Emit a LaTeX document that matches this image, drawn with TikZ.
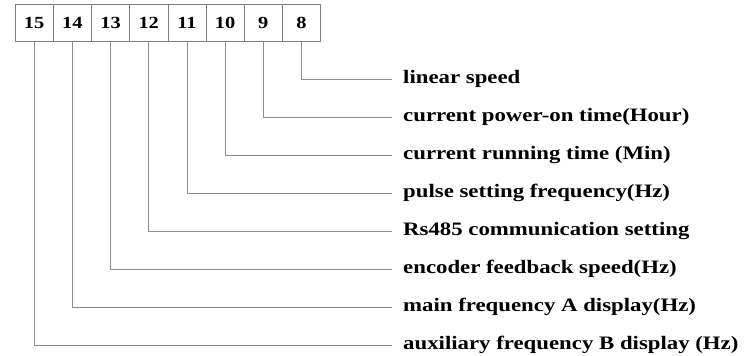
\documentclass[tikz,border=0pt]{standalone}
\usepackage{fontspec}
\setmainfont[FakeStretch=1.2]{Liberation Serif}
\usetikzlibrary{calc}

\tikzset{
  cell/.style={draw=gray, minimum width=38.2pt, minimum height=37pt, inner sep=0pt,
    font=\bfseries\fontsize{17}{20}\selectfont},
  lbl/.style={anchor=west, inner xsep=11pt, inner ysep=0pt,
    font=\bfseries\fontsize{19}{22}\selectfont},
  wire/.style={draw=gray!90, line width=0.8pt}
}

\begin{document}
\begin{tikzpicture}[x=1pt, y=-1pt, line join=round]
    \useasboundingbox (0,0) rectangle (748,356);
    % Parameters
    \def\w{38.2}        % width of one bit cell
    \def\xl{15}         % left edge of the register
    \def\dy{38}         % spacing between label rows

    % register cells, bit 15 on the left
    \foreach \i in {8,...,15} {
      \node[cell] (c\i) at ({\xl + \w*(15-\i) + \w/2}, 22.5) {\i};
    }

    % labels and their elbow wires
    \foreach \i/\t in {8/linear speed,
                       9/current power-on time(Hour),
                       10/current running time (Min),
                       11/pulse setting frequency(Hz),
                       12/Rs485 communication setting,
                       13/encoder feedback speed(Hz),
                       14/main frequency A display(Hz),
                       15/auxiliary frequency B display (Hz)} {
      \node[lbl] (l\i) at (392, {79 + \dy*(\i-8)}) {\t};
      \draw[wire] (c\i.south) |- (l\i.west);
    }
  \end{tikzpicture}
\end{document}
